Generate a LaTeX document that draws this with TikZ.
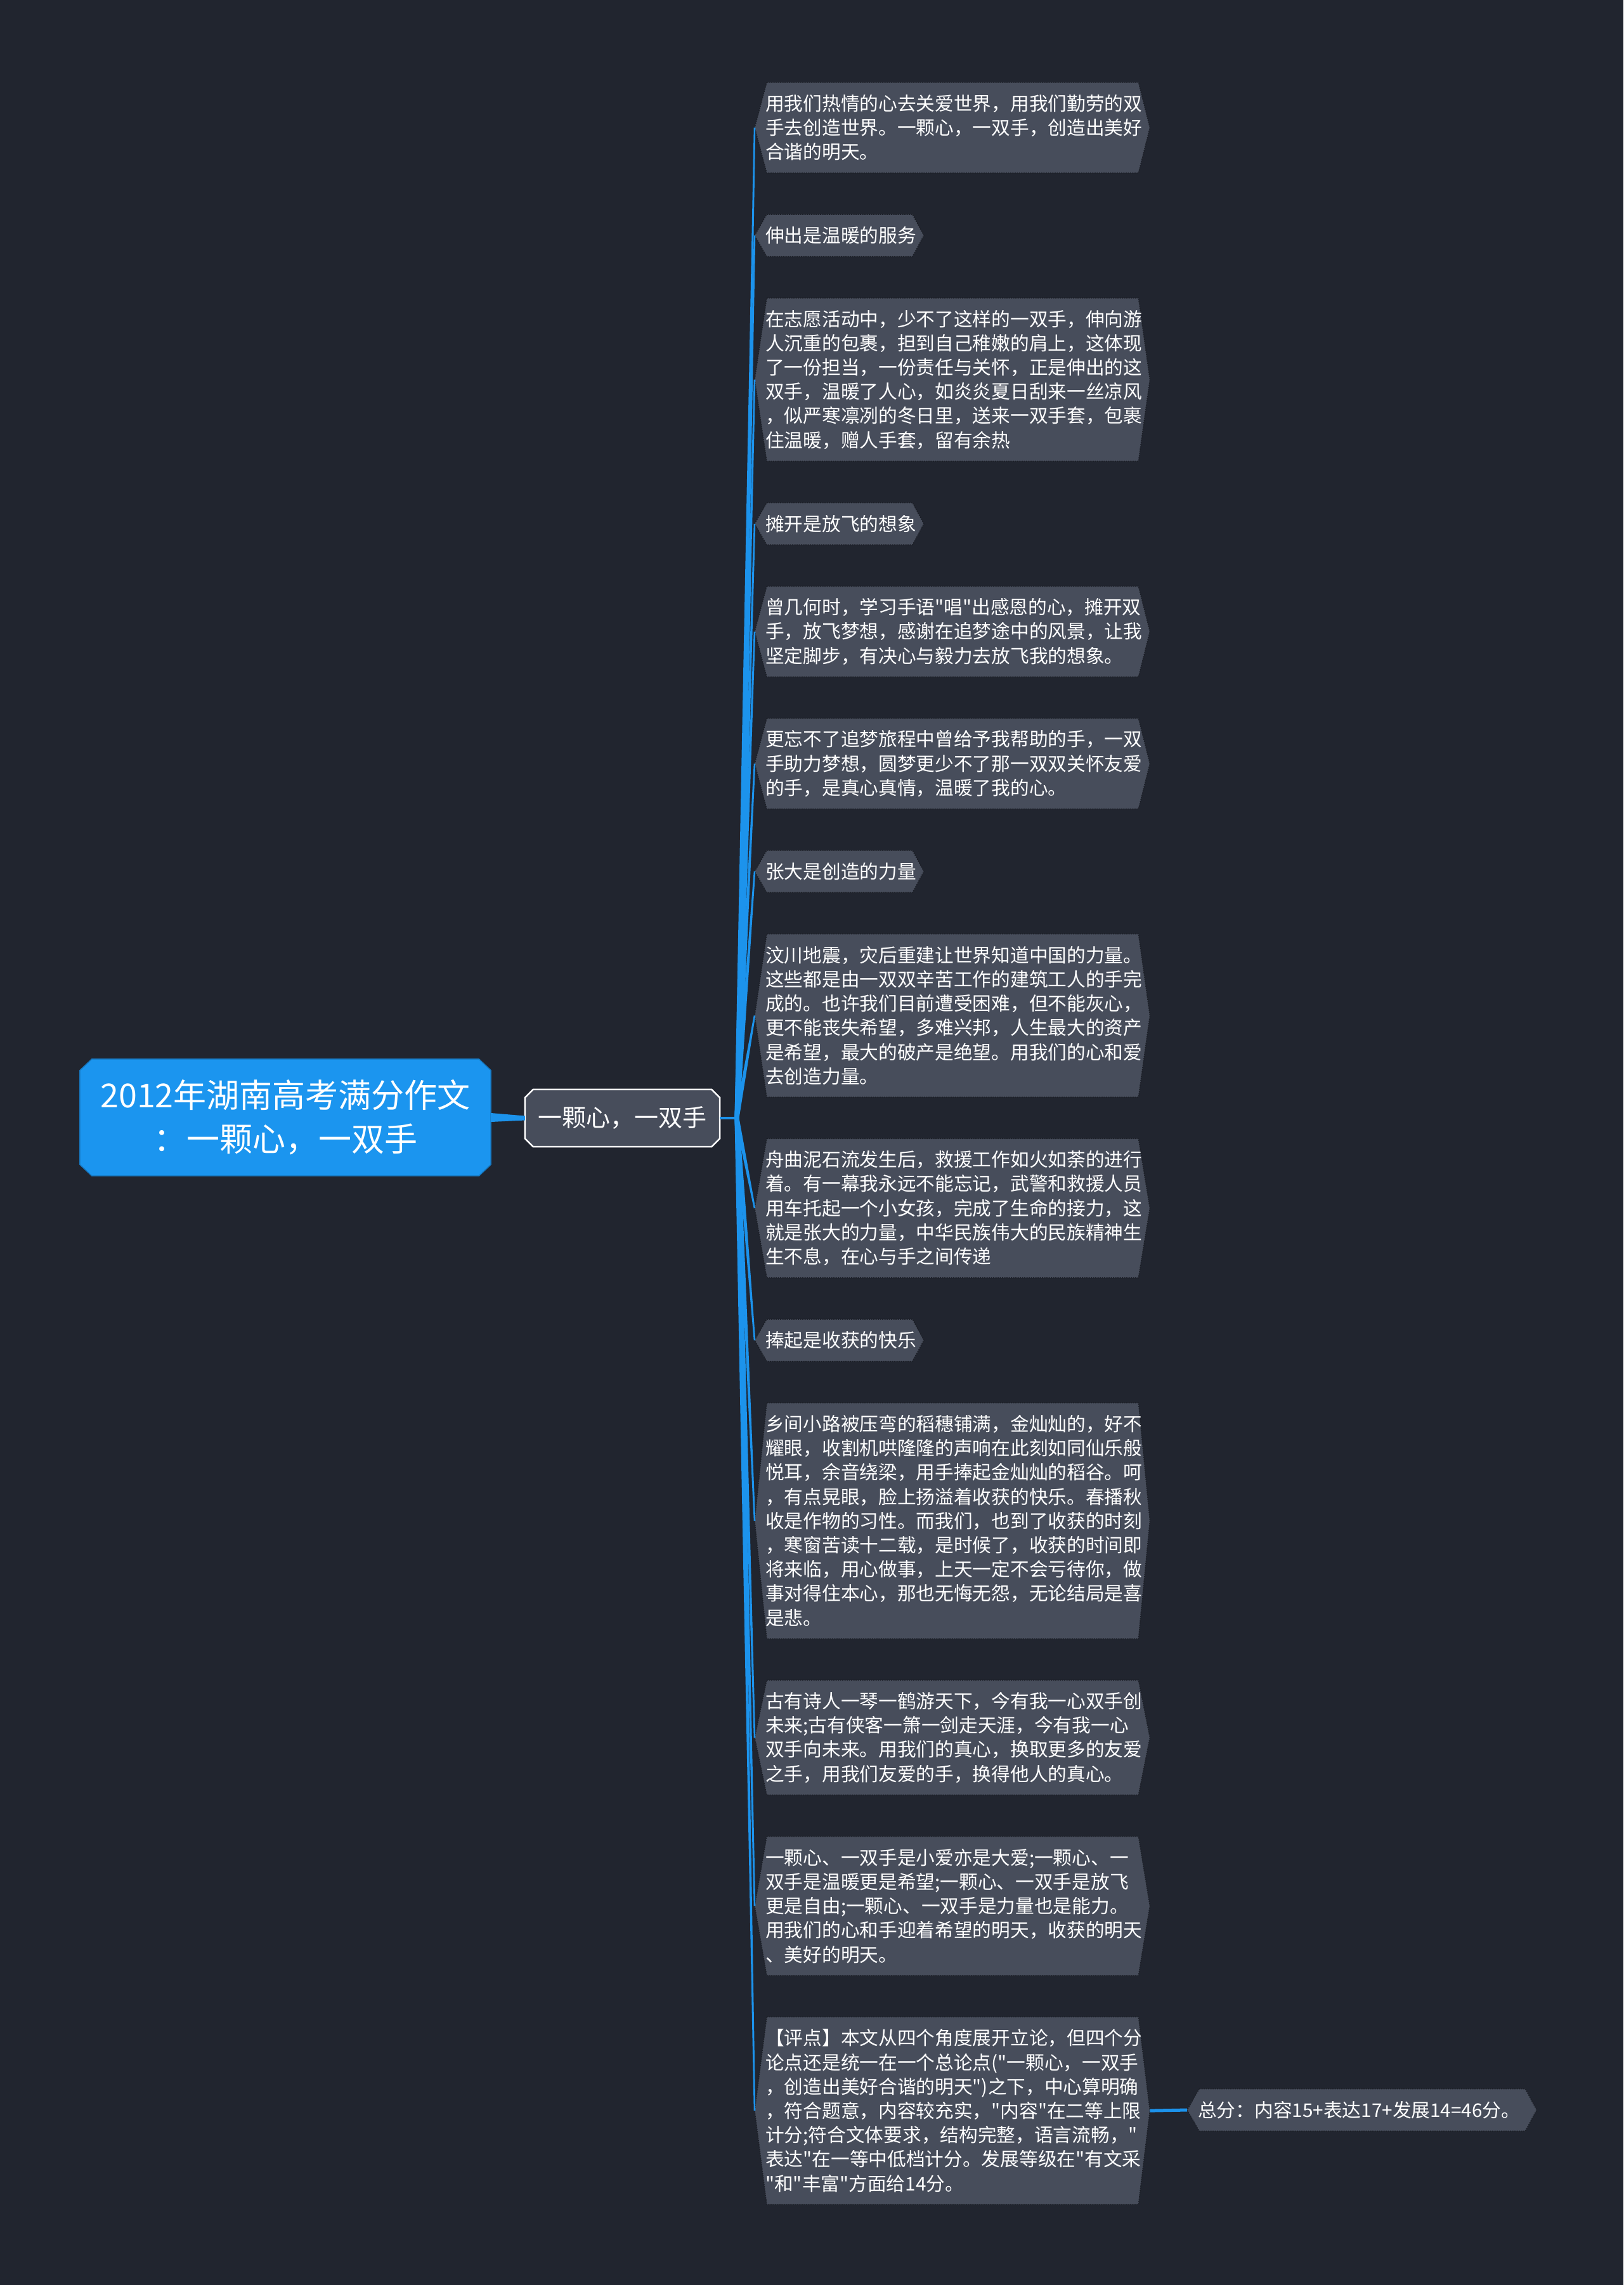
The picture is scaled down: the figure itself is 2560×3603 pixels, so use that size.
\documentclass[tikz,border=0pt]{standalone}
\usepackage{fontspec}
\setmainfont{Noto Sans CJK SC}
\font\qfnt="Noto Sans CJK SC" at 29.7pt
\newcommand\dq{{\qfnt\char34}}
\usetikzlibrary{calc}
\pgfdeclarelayer{back}
\pgfdeclarelayer{bg}
\pgfsetlayers{back,bg,main}
\definecolor{bgc}{HTML}{21252F}
\definecolor{leaffill}{HTML}{474D5B}
\definecolor{leafedge}{HTML}{1C1F27}
\definecolor{blu}{HTML}{1C93EC}
\definecolor{rootfill}{HTML}{1B95EF}
\tikzset{
  leaftext/.style={anchor=west, inner xsep=0pt, inner ysep=0pt, align=left, text=white,
    font=\fontsize{29.7pt}{38.2pt}\selectfont},
  wide/.style={text width=594pt},
  leafshape/.style={fill=leaffill, draw=leafedge, line width=1.5pt, dash pattern=on 2pt off 1.5pt},
  conn/.style={fill=blu},
  roottext/.style={inner sep=0pt, align=center, text=white, minimum width=648pt, minimum height=184pt,
    font=\fontsize{52pt}{69pt}\selectfont},
  rootshape/.style={fill=rootfill, draw=rootfill!80!black, line width=1.5pt},
  maintext/.style={inner sep=0pt, align=center, text=white, minimum width=307pt, minimum height=90pt,
    font=\fontsize{38pt}{46pt}\selectfont},
  mainshape/.style={fill=leaffill, draw=white, line width=2.5pt},
}
% name, x, y, lines, extra style, text
\newcommand\leafnode[6]{%
  \node[leaftext,#5,minimum height={38.2*#4+28}] (#1) at (#2,#3) {#6};
  \begin{pgfonlayer}{bg}
    \path[leafshape] ([xshift=2pt]#1.north west) -- ([xshift=-6pt]#1.north east) -- ([xshift=12pt]#1.east)
      -- ([xshift=-6pt]#1.south east) -- ([xshift=2pt]#1.south west) -- ([xshift=-17pt]#1.west) -- cycle;
  \end{pgfonlayer}
  \coordinate (#1-l) at ([xshift=-17pt]#1.west);
  \coordinate (#1-r) at ([xshift=12pt]#1.east);
}
% node, chamfer x, chamfer y, style
\newcommand\chamf[4]{%
  \begin{pgfonlayer}{bg}
  \path[#4] ([xshift=#2]#1.north west) -- ([xshift=-#2]#1.north east) -- ([yshift=-#3]#1.north east)
    -- ([yshift=#3]#1.south east) -- ([xshift=-#2]#1.south east) -- ([xshift=#2]#1.south west)
    -- ([yshift=#3]#1.south west) -- ([yshift=-#3]#1.north west) -- cycle;
  \end{pgfonlayer}}
% tapered connector: from, to, half width at start, half width at end
\newcommand\taper[4]{%
  \fill[conn] ($(#1)!#3!90:(#2)$) -- ($(#2)!#4!-90:(#1)$) -- ($(#2)!#4!90:(#1)$) -- ($(#1)!#3!-90:(#2)$) -- cycle;}

\begin{document}
\begin{tikzpicture}[x=1pt,y=-1pt]
\begin{pgfonlayer}{back}
  \fill[bgc] (0,0) rectangle (2560,3603);
\end{pgfonlayer}
\useasboundingbox (0,0) rectangle (2560,3603);

\node[roottext] (root) at (450,1762) {2012年湖南高考满分作文\\：一颗心，一双手};
\chamf{root}{19pt}{18pt}{rootshape}
\node[maintext] (main) at (981.5,1763) {一颗心，一双手};
\chamf{main}{13pt}{13pt}{mainshape}

\leafnode{c1}{1207}{201.3}{3}{wide}{用我们热情的心去关爱世界，用我们勤劳的双\\手去创造世界。一颗心，一双手，创造出美好\\合谐的明天。}
\leafnode{c2}{1207}{371.3}{1}{}{伸出是温暖的服务}
\leafnode{c3}{1207}{598.6}{6}{wide}{在志愿活动中，少不了这样的一双手，伸向游\\人沉重的包裹，担到自己稚嫩的肩上，这体现\\了一份担当，一份责任与关怀，正是伸出的这\\双手，温暖了人心，如炎炎夏日刮来一丝凉风\\，似严寒凛冽的冬日里，送来一双手套，包裹\\住温暖，赠人手套，留有余热}
\leafnode{c4}{1207}{825.9}{1}{}{摊开是放飞的想象}
\leafnode{c5}{1207}{995.9}{3}{wide}{曾几何时，学习手语\dq 唱\dq 出感恩的心，摊开双\\手，放飞梦想，感谢在追梦途中的风景，让我\\坚定脚步，有决心与毅力去放飞我的想象。}
\leafnode{c6}{1207}{1204.1}{3}{wide}{更忘不了追梦旅程中曾给予我帮助的手，一双\\手助力梦想，圆梦更少不了那一双双关怀友爱\\的手，是真心真情，温暖了我的心。}
\leafnode{c7}{1207}{1374.1}{1}{}{张大是创造的力量}
\leafnode{c8}{1207}{1601.4}{6}{wide}{汶川地震，灾后重建让世界知道中国的力量。\\这些都是由一双双辛苦工作的建筑工人的手完\\成的。也许我们目前遭受困难，但不能灰心，\\更不能丧失希望，多难兴邦，人生最大的资产\\是希望，最大的破产是绝望。用我们的心和爱\\去创造力量。}
\leafnode{c9}{1207}{1905.1}{5}{wide}{舟曲泥石流发生后，救援工作如火如荼的进行\\着。有一幕我永远不能忘记，武警和救援人员\\用车托起一个小女孩，完成了生命的接力，这\\就是张大的力量，中华民族伟大的民族精神生\\生不息，在心与手之间传递}
\leafnode{c10}{1207}{2113.3}{1}{}{捧起是收获的快乐}
\leafnode{c11}{1207}{2397.9}{9}{wide}{乡间小路被压弯的稻穗铺满，金灿灿的，好不\\耀眼，收割机哄隆隆的声响在此刻如同仙乐般\\悦耳，余音绕梁，用手捧起金灿灿的稻谷。呵\\，有点晃眼，脸上扬溢着收获的快乐。春播秋\\收是作物的习性。而我们，也到了收获的时刻\\，寒窗苦读十二载，是时候了，收获的时间即\\将来临，用心做事，上天一定不会亏待你，做\\事对得住本心，那也无悔无怨，无论结局是喜\\是悲。}
\leafnode{c12}{1207}{2739.8}{4}{wide}{古有诗人一琴一鹤游天下，今有我一心双手创\\未来;古有侠客一箫一剑走天涯，今有我一心\\双手向未来。用我们的真心，换取更多的友爱\\之手，用我们友爱的手，换得他人的真心。}
\leafnode{c13}{1207}{3005.3}{5}{wide}{一颗心、一双手是小爱亦是大爱;一颗心、一\\双手是温暖更是希望;一颗心、一双手是放飞\\更是自由;一颗心、一双手是力量也是能力。\\用我们的心和手迎着希望的明天，收获的明天\\、美好的明天。}
\leafnode{c14}{1207}{3328.1}{7}{wide}{【评点】本文从四个角度展开立论，但四个分\\论点还是统一在一个总论点(\dq 一颗心，一双手\\，创造出美好合谐的明天\dq )之下，中心算明确\\，符合题意，内容较充实，\dq 内容\dq 在二等上限\\计分;符合文体要求，结构完整，语言流畅，\dq\\表达\dq 在一等中低档计分。发展等级在\dq 有文采\\\dq 和\dq 丰富\dq 方面给14分。}
\leafnode{g}{1889}{3327}{1}{text width=522pt}{总分：内容15+表达17+发展14=46分。}

% connectors
\fill[conn] ([yshift=7pt]root.east) -- ([yshift=3.5pt]main.west) -- ([yshift=-3.5pt]main.west) -- ([yshift=-7pt]root.east) -- cycle;
\coordinate (F) at (1162,1763);
\draw[blu, line width=4.5pt] (main.east) -- (F);
\foreach \n in {c1,c2,c3,c4,c5,c6,c7,c8,c9,c10,c11,c12,c13,c14}{\taper{F}{\n-l}{3.5pt}{1.3pt}}
\draw[blu, line width=5pt] (c14-r) -- (g-l);
\end{tikzpicture}
\end{document}
